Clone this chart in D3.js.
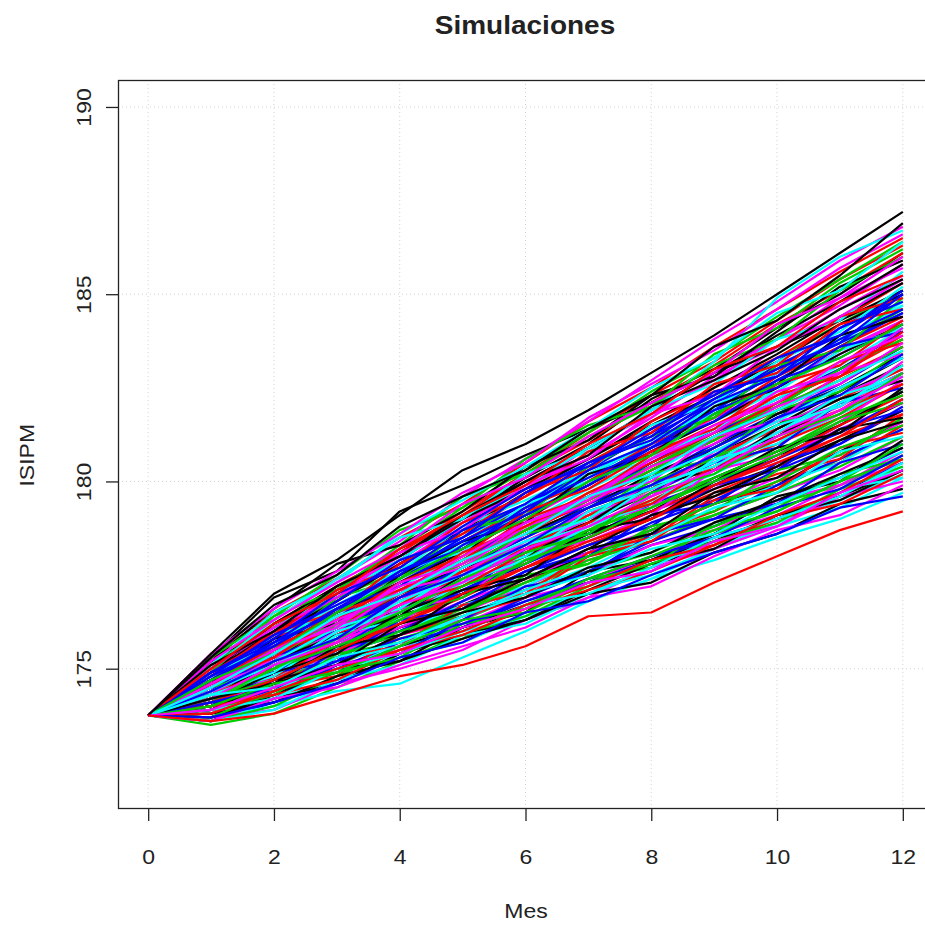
<!DOCTYPE html>
<html>
<head>
<meta charset="utf-8">
<script src="https://cdn.jsdelivr.net/npm/d3@7"></script>
<style>
html,body{margin:0;padding:0;background:#fff;}
svg{display:block;}
text{font-family:"Liberation Sans",Arial,Helvetica,sans-serif;fill:#222;}
</style>
</head>
<body>
<svg id="chart" width="925" height="927"></svg>
<script>
// ---- data ----
const months = [0,1,2,3,4,5,6,7,8,9,10,11,12];
const xTicks = [0,2,4,6,8,10,12];
const yTicks = [175,180,185,190];
const startValue = 173.75;
const title = "Simulaciones";
const xLabel = "Mes";
const yLabel = "ISIPM";

const s01=[174.6,175.2,176.3,176.8,177.6,178.6,179.3,179.9,180.9,181.8,182.3,183.1];
const s02=[174.2,174.9,175.4,176.2,176.7,177.3,178.1,178.6,179.2,180.0,180.5,181.5];
const s03=[175.0,175.8,176.9,177.6,178.6,179.4,180.5,181.4,182.2,183.3,184.2,185.1];
const s04=[174.1,175.0,175.6,176.5,177.1,177.9,178.5,179.4,180.0,180.6,181.5,182.4];
const s05=[174.8,175.5,176.5,177.2,178.2,179.2,179.9,180.9,181.6,182.4,183.5,184.3];
const s06=[174.0,174.4,175.1,175.5,176.2,176.9,177.3,178.0,178.6,179.1,179.9,180.5];
const s07=[175.2,176.1,177.1,178.2,179.0,180.1,181.0,182.2,183.0,184.1,185.0,186.1];
const s08=[174.3,175.3,175.9,176.6,177.5,178.1,178.9,179.8,180.4,181.3,181.9,182.9];
const s09=[174.7,175.4,176.3,177.3,178.0,178.7,179.7,180.4,181.3,182.1,183.0,183.8];
const s10=[173.9,174.7,175.5,176.0,176.8,177.6,178.1,178.9,179.5,180.3,181.0,181.9];
const s11=[174.9,175.9,176.6,177.5,178.5,179.3,180.3,181.0,181.9,183.0,183.7,184.8];
const s12=[174.4,174.8,175.3,176.1,176.5,177.2,177.9,178.4,179.1,179.7,180.3,181.2];
const s13=[174.2,175.1,175.8,176.7,177.6,178.2,179.2,179.8,180.7,181.5,182.4,183.3];
const s14=[175.3,176.5,177.4,178.5,179.4,180.5,181.6,182.5,183.6,184.6,185.6,186.5];
const s15=[174.5,175.1,175.9,176.5,177.4,178.1,178.7,179.6,180.3,181.0,181.8,182.6];
const s16=[174.4,175.4,176.1,177.0,177.9,178.8,179.5,180.5,181.3,182.0,183.0,184.0];
const s17=[173.7,174.3,174.9,175.4,176.0,176.4,177.1,177.5,178.2,178.8,179.3,180.1];
const s18=[174.9,176.0,176.9,177.8,178.9,179.9,180.7,181.7,182.8,183.6,184.6,185.5];
const s19=[174.3,174.9,175.7,176.4,177.0,177.8,178.6,179.2,179.9,180.7,181.3,182.1];
const s20=[174.6,175.3,176.2,177.1,177.8,178.7,179.4,180.3,181.2,181.9,182.7,183.6];
const s21=[174.5,175.6,176.4,177.2,178.3,179.1,180.0,181.0,181.8,182.7,183.6,184.6];
const s22=[174.2,174.6,175.4,175.9,176.4,177.1,177.6,178.3,178.8,179.5,180.1,180.9];
const s23=[174.7,175.2,176.1,176.9,177.5,178.4,179.1,179.8,180.7,181.4,182.3,183.0];
const s24=[175.1,175.9,177.0,178.0,178.9,179.8,180.9,181.8,182.7,183.8,184.7,185.8];
const s25=[173.9,174.8,175.3,176.1,176.7,177.4,178.0,178.7,179.4,179.9,180.8,181.6];
const s26=[174.4,175.4,176.2,176.9,177.9,178.7,179.5,180.4,181.1,182.1,182.9,183.8];
const s27=[174.6,175.0,175.9,176.6,177.2,178.0,178.6,179.5,180.1,180.8,181.6,182.4];
const s28=[174.6,175.7,176.5,177.6,178.4,179.3,180.4,181.2,182.1,183.1,183.9,185.0];
const s29=[174.0,174.3,175.0,175.6,176.0,176.7,177.2,177.8,178.3,178.9,179.6,180.4];
const s30=[174.8,175.6,176.4,177.4,178.2,179.0,180.0,180.8,181.7,182.5,183.5,184.3];
const s31=[174.3,175.1,176.0,176.6,177.4,178.3,178.9,179.7,180.6,181.2,182.1,182.9];
const s32=[175.0,176.2,177.2,178.1,179.2,180.2,181.3,182.3,183.2,184.3,185.4,186.3];
const s33=[174.1,174.6,175.4,175.9,176.6,177.3,177.8,178.6,179.1,179.8,180.6,181.4];
const s34=[174.4,175.4,176.0,177.0,177.7,178.5,179.4,180.1,181.0,181.8,182.6,183.6];
const s35=[174.8,175.6,176.6,177.4,178.3,179.3,180.1,181.1,181.9,182.9,183.8,184.7];
const s36=[174.2,174.8,175.6,176.3,177.1,177.7,178.5,179.2,179.8,180.6,181.4,182.1];
const s37=[174.7,175.3,176.1,177.0,177.7,178.6,179.3,180.2,180.9,181.8,182.5,183.4];
const s38=[175.0,175.8,176.8,177.8,178.6,179.6,180.5,181.4,182.5,183.3,184.3,185.3];
const s39=[173.8,174.6,175.1,175.8,176.3,177.0,177.6,178.1,178.8,179.4,179.9,180.7];
const s40=[174.5,175.3,176.3,177.1,177.9,178.9,179.6,180.5,181.4,182.2,183.0,184.0];
const s41=[174.2,175.0,175.7,176.5,177.3,177.9,178.8,179.5,180.2,181.0,181.8,182.6];
const s42=[175.4,176.3,177.4,178.4,179.6,180.6,181.6,182.7,183.8,184.8,185.9,186.8];
const s43=[174.4,174.9,175.6,176.2,177.0,177.7,178.3,179.0,179.8,180.4,181.1,181.9];
const s44=[174.5,175.2,176.2,177.0,177.8,178.8,179.5,180.4,181.2,182.1,182.9,183.9];
const s45=[174.3,175.2,176.0,176.7,177.6,178.3,179.1,180.0,180.6,181.5,182.2,183.1];
const s46=[174.9,175.6,176.6,177.4,178.4,179.2,180.2,181.0,181.9,182.9,183.7,184.5];
const s47=[173.6,174.2,174.7,175.3,175.7,176.4,176.8,177.4,177.9,178.5,179.0,179.7];
const s48=[175.2,176.0,177.1,178.0,179.0,180.0,180.9,181.9,182.9,183.8,184.9,185.7];
const s49=[174.0,174.9,175.5,176.4,177.0,177.9,178.6,179.2,180.1,180.8,181.5,182.4];
const s50=[174.6,175.4,176.1,177.0,177.9,178.6,179.5,180.3,181.1,181.9,182.8,183.6];
const s51=[174.3,174.7,175.4,176.0,176.6,177.1,177.9,178.4,179.1,179.7,180.4,181.2];
const s52=[174.7,175.7,176.6,177.5,178.5,179.4,180.3,181.3,182.2,183.0,184.1,185.0];
const s53=[174.5,175.1,175.9,176.8,177.5,178.2,179.0,179.8,180.5,181.3,182.1,182.9];
const s54=[174.6,175.6,176.3,177.3,178.2,179.0,179.9,180.8,181.7,182.5,183.4,184.3];
const s55=[173.6,174.4,174.9,175.6,176.1,176.7,177.3,177.9,178.4,179.1,179.6,180.3];
const s56=[175.3,176.1,177.2,178.1,179.1,180.2,181.1,182.1,183.1,184.2,185.1,186.1];
const s57=[174.4,175.2,176.1,176.8,177.7,178.5,179.3,180.1,180.9,181.7,182.5,183.3];
const s58=[174.5,174.9,175.8,176.3,177.1,177.8,178.5,179.2,179.9,180.6,181.3,182.2];
const s59=[174.8,175.4,176.4,177.2,178.0,178.9,179.8,180.6,181.4,182.2,183.1,184.1];
const s60=[174.1,174.7,175.4,176.1,176.8,177.4,178.1,178.7,179.4,180.1,180.7,181.6];
const s61=[174.9,175.9,176.8,177.8,178.7,179.7,180.6,181.6,182.5,183.4,184.4,185.3];
const s62=[174.2,175.1,175.8,176.5,177.2,178.1,178.8,179.5,180.3,181.0,181.7,182.6];
const s63=[174.7,175.3,176.3,177.1,177.9,178.7,179.6,180.4,181.2,182.0,183.0,183.8];
const s64=[174.4,175.5,176.4,177.3,178.2,179.1,180.0,180.9,181.8,182.7,183.6,184.5];
const s65=[174.3,174.8,175.3,176.0,176.7,177.2,178.0,178.5,179.3,179.9,180.5,181.4];
const s66=[174.6,175.2,176.1,176.8,177.6,178.4,179.1,179.9,180.7,181.4,182.3,183.0];
const s67=[174.9,176.0,177.0,177.9,179.0,180.0,180.9,181.9,182.9,183.9,184.8,185.8];
const s68=[173.9,174.8,175.6,176.3,177.0,177.7,178.5,179.2,179.9,180.6,181.5,182.3];
const s69=[174.5,175.5,176.2,177.0,177.8,178.7,179.5,180.3,181.1,182.0,182.7,183.6];
const s70=[174.1,174.5,175.0,175.7,176.1,176.8,177.3,177.9,178.5,179.0,179.7,180.5];
const s71=[174.6,175.6,176.5,177.5,178.3,179.3,180.2,181.0,182.0,182.9,183.8,184.7];
const s72=[174.3,175.0,175.9,176.7,177.4,178.2,179.0,179.7,180.5,181.3,182.0,182.9];
const s73=[174.7,175.5,176.5,177.3,178.1,179.1,179.9,180.8,181.6,182.5,183.4,184.2];
const s74=[174.2,174.8,175.6,176.2,176.9,177.7,178.3,179.0,179.7,180.4,181.2,181.8];
const s75=[175.1,176.2,177.1,178.2,179.3,180.3,181.3,182.4,183.3,184.4,185.4,186.4];
const s76=[174.5,175.3,176.0,176.9,177.7,178.5,179.3,180.1,180.9,181.7,182.5,183.3];
const s77=[175.0,176.1,177.0,177.9,179.0,179.9,180.9,181.9,183.2,184.9,186.0,186.7];
const s78=[174.0,174.7,175.1,175.9,176.3,177.1,177.5,178.3,178.7,179.5,179.9,180.8];
const s79=[175.3,176.9,177.6,179.2,179.9,180.7,181.4,182.1,182.9,183.6,184.3,185.1];
const s80=[174.4,175.2,175.9,176.7,177.6,178.2,179.1,179.8,180.7,181.4,182.2,183.0];
const s81=[175.4,177.0,177.9,179.1,180.3,181.0,181.9,182.9,183.9,185.0,186.1,187.2];
const s82=[173.6,173.8,174.3,174.8,175.1,175.6,176.4,176.5,177.3,178.0,178.7,179.2];
const s83=[173.5,173.8,174.5,175.2,175.9,176.4,177.2,177.9,178.6,179.2,180.0,180.6];
const s84=[173.6,174.1,174.6,175.4,176.1,176.9,177.6,178.4,179.0,179.9,180.6,181.4];
const s85=[173.7,174.0,174.4,174.6,175.3,176.0,176.8,177.4,178.2,178.9,179.5,180.2];
const s86=[173.7,173.9,174.6,175.0,175.5,176.3,176.9,177.7,178.2,178.8,179.6,180.0];
const s87=[174.9,176.2,177.2,178.0,179.0,179.8,180.6,181.5,182.3,183.2,184.2,185.0];
const s88=[174.7,175.8,176.6,177.5,178.4,179.3,180.0,181.0,181.7,182.8,183.6,184.4];
const s89=[174.9,176.4,177.1,178.3,179.6,180.2,181.2,182.0,183.1,183.8,185.1,186.0];
const s90=[173.9,174.2,175.1,175.4,176.3,177.2,177.5,178.6,179.0,179.4,180.5,181.0];
const s91=[174.5,175.9,176.4,177.7,178.1,179.4,180.0,180.6,181.9,182.4,183.5,184.1];
const s92=[174.2,174.5,175.8,176.2,177.4,177.8,178.9,179.3,180.6,181.1,181.8,182.9];
const s93=[175.2,176.6,177.8,178.3,179.2,180.4,181.1,182.3,182.8,184.0,185.2,185.9];
const s94=[173.8,174.5,174.8,175.9,176.4,176.9,178.0,178.4,179.5,179.8,180.9,181.3];
const s95=[174.7,175.5,176.9,177.4,178.7,179.1,180.4,181.2,181.7,183.1,183.5,184.9];
const s96=[174.0,175.1,175.5,176.6,177.0,178.2,178.6,179.7,180.5,180.9,182.1,182.5];
const s97=[175.0,176.3,177.4,178.5,179.0,180.2,180.8,181.9,182.6,183.8,184.3,185.6];
const s98=[174.4,174.7,175.6,176.6,176.9,178.1,178.4,179.1,180.3,180.7,181.6,182.7];
const s99=[174.6,175.8,176.2,177.5,178.4,178.9,180.2,180.7,182.0,182.6,183.9,184.4];
const s100=[173.8,174.6,175.3,175.6,176.7,177.0,178.1,178.5,179.6,180.2,180.6,181.8];
const s101=[175.3,176.4,177.5,178.7,179.3,180.6,181.5,182.0,183.4,184.1,185.3,186.2];
const s102=[174.1,174.4,175.5,176.0,176.8,177.6,178.0,179.1,179.4,180.5,181.0,182.0];
const s103=[174.8,175.7,176.7,177.6,178.8,179.5,180.3,181.5,182.1,183.2,184.0,185.2];
const s104=[174.3,175.3,175.7,176.9,177.3,178.4,179.2,179.6,180.8,181.6,182.0,183.2];
const s105=[173.7,174.3,175.0,175.2,176.1,176.5,177.6,177.9,178.6,179.6,180.0,181.1];
const s106=[174.9,175.9,177.1,177.7,178.9,179.6,180.8,181.3,182.6,183.1,184.4,184.9];
const s107=[174.5,175.0,176.2,176.6,177.7,178.6,179.0,180.2,180.6,181.9,182.4,183.5];
const s108=[174.0,174.9,175.2,176.3,176.6,177.6,178.3,178.8,179.9,180.3,181.4,181.9];
const s109=[175.1,176.5,177.3,178.6,179.5,180.4,181.4,182.5,183.3,184.5,185.1,186.4];
const s110=[174.6,175.1,176.0,177.1,177.5,178.6,179.6,180.0,181.2,181.6,182.9,183.4];
const s111=[174.2,175.2,175.9,176.4,177.5,178.0,178.9,179.9,180.3,181.4,182.2,182.7];
const s112=[174.8,176.0,176.5,177.8,178.6,179.7,180.3,181.6,182.4,182.9,184.2,184.6];
const s113=[173.9,174.3,175.4,175.7,176.5,177.5,177.8,178.8,179.2,180.3,180.7,181.7];
const s114=[174.7,175.6,176.6,177.2,178.3,179.1,179.9,180.9,181.6,182.7,183.3,184.2];
const s115=[174.3,174.8,175.9,176.3,177.3,177.9,178.8,179.4,180.6,181.0,182.1,182.8];
const s116=[175.0,176.1,176.9,178.1,178.7,179.9,180.6,181.8,182.3,183.6,184.4,185.4];
const s117=[174.1,174.9,175.4,176.5,177.1,177.5,178.7,179.0,180.0,180.9,181.3,182.5];
const s118=[174.5,175.5,176.5,177.1,177.9,179.0,179.6,180.7,181.5,182.3,183.2,183.7];
const s119=[173.6,174.0,174.8,175.5,175.8,176.7,177.4,177.7,178.9,179.3,180.2,180.6];
const s120=[174.9,175.7,176.8,177.9,178.5,179.7,180.5,181.2,182.4,182.8,184.1,184.8];
const s121=[174.4,175.1,175.8,176.8,177.5,178.0,179.2,179.8,180.5,181.5,182.0,183.1];
const s122=[175.2,176.3,177.3,178.2,179.4,180.1,181.2,182.1,182.9,184.2,184.9,186.0];
const s123=[174.0,174.6,175.6,175.9,177.0,177.4,178.2,179.1,179.6,180.4,181.4,181.7];
const s124=[174.6,175.6,176.3,177.3,178.0,179.2,179.8,180.8,181.4,182.6,183.1,184.3];
const s125=[174.2,174.7,175.5,176.4,176.9,177.9,178.5,179.3,180.1,180.8,181.7,182.3];
const s126=[174.8,175.9,176.7,177.5,178.7,179.4,180.5,181.1,182.2,183.0,183.7,185.0];
const s127=[173.8,174.4,175.2,175.6,176.4,177.1,177.7,178.5,179.3,179.7,180.8,181.2];
const s128=[174.5,175.4,176.2,177.2,177.7,178.8,179.4,180.4,181.0,182.0,182.6,183.7];
const s129=[175.1,176.0,177.2,178.0,179.1,180.0,180.7,182.0,182.7,183.5,184.6,185.4];
const s130=[174.3,175.0,175.7,176.7,177.2,178.1,178.9,179.4,180.4,181.1,181.9,182.6];
const s131=[174.0,174.5,175.3,176.0,176.5,177.3,178.0,178.7,179.4,180.0,180.9,181.5];
const s132=[174.7,175.7,176.5,177.6,178.2,179.3,180.1,180.9,181.9,182.5,183.6,184.0];
const s133=[174.4,175.2,176.1,176.6,177.7,178.4,179.0,180.1,180.8,181.6,182.5,183.3];
const s134=[175.4,176.6,177.6,178.6,179.7,180.5,181.7,182.6,183.5,184.6,185.7,186.6];
const s135=[173.7,174.2,174.6,175.4,175.9,176.3,177.1,177.8,178.2,179.1,179.5,180.3];
const s136=[174.6,175.3,176.4,177.0,178.1,178.8,179.7,180.5,181.3,182.3,182.8,184.0];
const s137=[174.1,175.0,175.6,176.3,177.2,177.8,178.7,179.3,180.0,180.7,181.6,182.1];
const s138=[174.9,175.8,177.0,177.7,178.8,179.8,180.4,181.4,182.3,183.3,183.9,185.1];
const s139=[174.3,174.9,176.0,176.5,177.4,178.3,178.8,179.9,180.4,181.3,182.3,182.8];
const s140=[174.5,175.5,176.1,177.3,177.8,178.9,179.5,180.6,181.3,182.4,182.9,184.1];
const s141=[173.9,174.7,175.1,176.2,176.6,177.4,178.2,178.6,179.7,180.1,181.1,181.6];
const s142=[175.0,176.2,177.0,178.2,179.1,179.9,181.0,181.8,183.0,183.6,184.8,185.5];
const s143=[174.2,175.0,175.8,176.5,177.4,178.1,178.6,179.7,180.2,181.2,181.8,182.9];
const s144=[174.8,175.6,176.6,177.6,178.4,179.2,180.3,181.0,182.1,182.8,183.8,184.6];
const s145=[173.6,173.9,174.7,175.1,175.9,176.2,177.0,177.6,178.4,178.8,179.8,180.1];
const s146=[174.6,175.5,176.3,177.0,178.0,178.9,179.6,180.6,181.5,182.1,183.2,183.9];
const s147=[175.3,176.7,177.5,178.8,179.6,180.3,181.4,182.3,183.6,184.3,185.5,186.9];
const s148=[174.1,174.7,175.5,176.2,177.0,177.7,178.4,179.0,179.9,180.5,181.2,182.2];
const s149=[174.7,175.4,176.5,177.4,178.2,179.0,180.0,180.7,181.8,182.6,183.3,184.2];
const s150=[174.4,175.2,175.8,176.9,177.5,178.3,179.3,179.9,180.7,181.7,182.3,183.4];
const s151=[174.5,175.4,176.4,177.0,177.9,178.6,179.6,180.2,181.2,181.9,182.7,183.5];
const s152=[174.2,175.1,175.7,176.7,177.3,178.2,178.8,179.6,180.3,181.2,181.9,182.8];
const s153=[173.8,174.1,174.8,175.2,175.8,176.3,177.0,177.3,178.1,178.6,179.4,179.8];
const s154=[174.0,174.3,174.7,175.5,175.9,176.6,177.1,177.6,178.3,179.0,179.4,180.2];
const s155=[173.7,174.4,174.9,175.3,176.2,176.5,177.3,177.8,178.4,178.9,179.8,180.4];
const s156=[174.1,174.5,175.2,175.8,176.2,176.8,177.4,178.0,178.5,179.3,179.8,180.7];
const s157=[173.9,174.2,175.0,175.4,176.0,176.7,177.0,177.7,178.5,179.0,179.6,180.5];
const s158=[173.6,174.2,174.5,175.1,175.6,176.1,176.9,177.2,178.0,178.7,179.1,179.9];
const s159=[174.2,174.6,175.1,175.9,176.5,176.9,177.7,178.1,178.9,179.5,180.2,180.9];
const s160=[173.8,174.4,175.0,175.5,176.0,176.7,177.2,177.9,178.3,179.1,179.7,180.6];
const s161=[174.0,174.6,174.9,175.6,176.3,176.6,177.4,178.0,178.7,179.2,180.0,181.0];
const s162=[173.7,174.1,174.6,175.3,175.7,176.5,176.8,177.5,178.1,178.6,179.3,179.6];
const s163=[174.3,174.5,175.3,175.7,176.4,177.0,177.5,178.2,178.6,179.4,180.1,180.8];
const s164=[173.9,174.5,175.1,175.4,176.1,176.6,177.3,177.6,178.4,178.8,179.7,180.3];

// drawing order (later series are drawn on top)
const simulations = [s01,s02,s03,s04,s05,s06,s07,s08,s09,s10,s11,s12,s13,s14,s15,s16,s17,s18,s19,s20,
  s21,s22,s23,s24,s25,s26,s27,s28,s29,s30,s31,s32,s33,s34,s35,s36,s37,s38,s39,s40,
  s41,s42,s43,s44,s45,s46,s47,s48,s49,s50,s51,s52,s53,s54,s55,s56,s57,s58,s59,s60,
  s61,s62,s63,s64,s65,s66,s67,s68,s69,s70,s71,s72,s73,s74,s75,s76,s77,s78,s79,s80,
  s83,s84,s85,s86,s87,s88,s89,s90,s91,s92,s93,s94,s95,s96,s97,s98,s99,s100,
  s101,s102,s103,s104,s105,s106,s107,s108,s109,s110,s111,s112,s113,s114,s115,s116,s117,s118,s119,s120,
  s121,s122,s123,s124,s125,s126,s127,s128,s129,s130,s131,s132,s133,s134,s135,s136,s137,s138,s139,s140,
  s141,s142,s143,s144,s145,s146,s147,s148,s149,s150,s151,s152,s153,s154,s155,s156,s157,s158,s159,s160,
  s161,s162,s163,s164,s81,s82];

// matplot default colours (R palette 1:6)
const palette = ["#000000","#FF0000","#00CD00","#0000FF","#00FFFF","#FF00FF"];

// ---- layout ----
const svg = d3.select("#chart");
const plot = {left:118, right:933, top:80, bottom:808};

const x = d3.scaleLinear().domain([-0.48, 12.48]).range([plot.left, plot.right]);
const y = d3.scaleLinear().domain([171.28, 190.72]).range([plot.bottom, plot.top]);

svg.append("defs").append("clipPath").attr("id","clip")
  .append("rect").attr("x",plot.left).attr("y",plot.top)
  .attr("width",plot.right-plot.left).attr("height",plot.bottom-plot.top);

// grid
const grid = svg.append("g").attr("stroke","#D3D3D3").attr("stroke-width",1).attr("stroke-dasharray","1,3");
grid.selectAll("line.vx").data(xTicks).enter().append("line")
  .attr("x1",d=>x(d)).attr("x2",d=>x(d)).attr("y1",plot.top).attr("y2",plot.bottom);
grid.selectAll("line.hy").data(yTicks).enter().append("line")
  .attr("y1",d=>y(d)).attr("y2",d=>y(d)).attr("x1",plot.left).attr("x2",plot.right);

// simulation lines
const line = d3.line().x((d,i)=>x(months[i])).y(d=>y(d));
svg.append("g").attr("clip-path","url(#clip)")
  .selectAll("path").data(simulations).enter().append("path")
  .attr("d", s=>line([startValue].concat(s)))
  .attr("fill","none")
  .attr("stroke",(d,i)=>palette[i%palette.length])
  .attr("stroke-width",2.2)
  .attr("stroke-linejoin","round");

// box
svg.append("rect").attr("x",plot.left+0.5).attr("y",plot.top+0.5)
  .attr("width",plot.right-plot.left).attr("height",plot.bottom-plot.top)
  .attr("fill","none").attr("stroke","#222").attr("stroke-width",1.3);

// x axis
const xAxis = d3.axisBottom(x).tickValues(xTicks).tickSize(13).tickPadding(0).tickFormat(d3.format("d"));
const gx = svg.append("g").attr("transform",`translate(0,${plot.bottom})`).call(xAxis);
gx.select(".domain").remove();
gx.selectAll(".tick line").attr("stroke","#222").attr("stroke-width",1.3);
gx.selectAll(".tick text").attr("y",null).attr("dy",null)
  .attr("font-size",23).attr("fill","#222")
  .attr("transform","translate(0,56) scale(1,0.9)");

// y axis
const yAxis = d3.axisLeft(y).tickValues(yTicks).tickSize(12).tickPadding(0).tickFormat(d3.format("d"));
const gy = svg.append("g").attr("transform",`translate(${plot.left},0)`).call(yAxis);
gy.select(".domain").remove();
gy.selectAll(".tick line").attr("stroke","#222").attr("stroke-width",1.3);
gy.selectAll(".tick text").attr("x",null).attr("dy",null)
  .attr("font-size",23).attr("fill","#222").attr("text-anchor","middle")
  .attr("transform","translate(-27,0) scale(0.9,1) rotate(-90)");

// titles
svg.append("text").attr("x",525).attr("y",34).attr("text-anchor","middle")
  .attr("font-size",28).attr("font-weight","bold").attr("fill","#111")
  .attr("transform","translate(525,34) scale(1,0.9) translate(-525,-34)")
  .text(title);
svg.append("text").attr("x",526).attr("y",918).attr("text-anchor","middle")
  .attr("font-size",23).attr("fill","#222")
  .attr("transform","translate(526,918) scale(1,0.9) translate(-526,-918)")
  .text(xLabel);
svg.append("text").attr("text-anchor","middle").attr("font-size",23).attr("fill","#222")
  .attr("transform",`translate(34,${y(180.7)}) scale(0.9,1) rotate(-90)`)
  .text(yLabel);
</script>
</body>
</html>
